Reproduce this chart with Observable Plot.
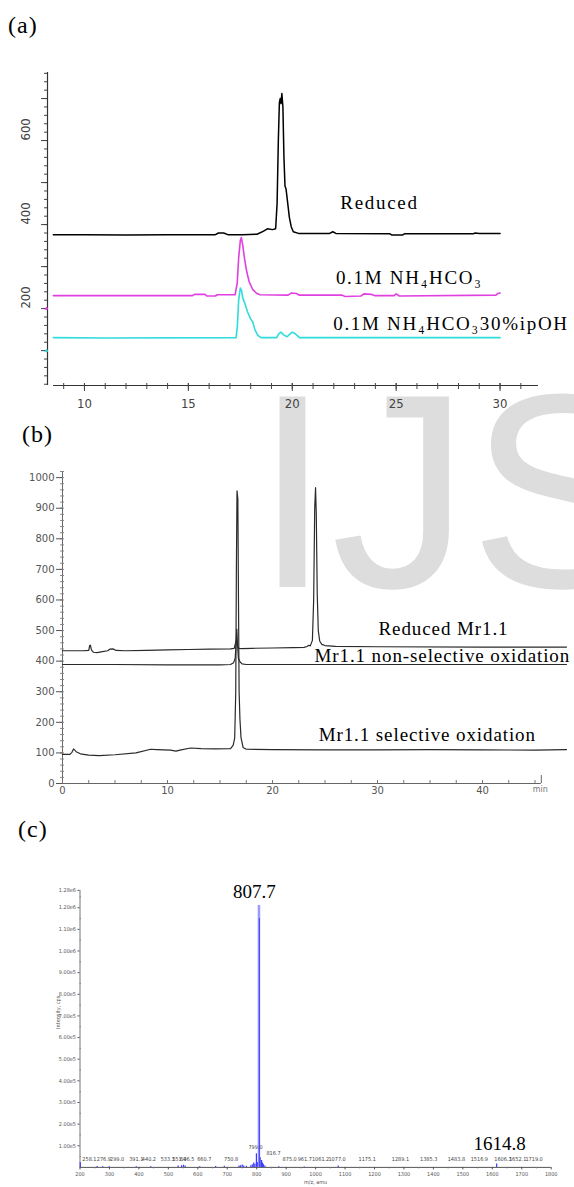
<!DOCTYPE html>
<html><head><meta charset="utf-8">
<script src="https://cdn.jsdelivr.net/npm/d3@7"></script>
<script src="https://cdn.jsdelivr.net/npm/@observablehq/plot@0.6"></script>
<style>
html,body{margin:0;padding:0;background:#fff;}
#page{position:relative;width:574px;height:1187px;overflow:hidden;background:#fff;}
.panel{position:absolute;left:0;line-height:0;}
.plabel{position:absolute;font-family:"Liberation Serif","Times New Roman",serif;font-size:24px;line-height:24px;color:#000;letter-spacing:1px;}
#wm{position:absolute;left:0;top:0;}
</style></head><body>
<div id="page">
<svg id="wm" width="574" height="1187"><text x="254" y="587" font-family="Liberation Sans, Arial, sans-serif" font-size="277" fill="#dddddd">IJS</text></svg>
<div class="plabel" style="left:8px;top:13px">(a)</div>
<div class="plabel" style="left:22px;top:422px">(b)</div>
<div class="plabel" style="left:18px;top:817px">(c)</div>
</div>
<script>
// ---------------- Panel (a) data ----------------
const aXTicks = [10, 15, 20, 25, 30];
const aYTicks = [200, 400, 600];
const reducedA = [[8.5,376],[10,376],[12,375],[14,376],[16.3,376],[16.45,380],[16.7,380],[16.9,376],[17.6,376],[18.3,377],[18.6,384],[18.8,390],[19.05,388],[19.2,390],[19.27,450],[19.33,600],[19.38,690],[19.42,700],[19.46,688],[19.5,712],[19.55,680],[19.6,560],[19.65,492],[19.7,485],[19.76,460],[19.86,417],[19.95,395],[20.05,383],[20.3,379],[21.8,379],[21.95,383],[22.1,379],[24.7,378],[24.8,375],[25.3,375],[25.4,378],[28.7,378],[28.8,380],[29,379],[30,379]];
const magentaA = [[8.5,231],[15.2,231],[15.3,234],[15.8,234],[15.9,230],[16.3,230],[16.4,233],[17.25,233],[17.35,260],[17.42,320],[17.5,362],[17.55,369],[17.62,350],[17.7,320],[17.8,290],[17.92,265],[18.1,245],[18.3,236],[18.45,233],[19.8,232],[19.95,237],[20.2,236],[20.35,232],[22.4,232],[22.55,229],[23.3,230],[23.45,235],[23.8,234],[23.95,231],[24.9,231],[25.0,235],[25.15,230],[29.8,232],[29.9,236],[30,237]];
const cyanA = [[8.5,131],[11,130],[17.3,131],[17.36,160],[17.42,220],[17.5,249],[17.56,243],[17.62,225],[17.72,212],[17.85,192],[18.0,175],[18.1,168],[18.2,150],[18.35,136],[18.5,131],[19.25,131],[19.35,140],[19.45,144],[19.6,137],[19.75,133],[19.9,140],[20.0,144],[20.15,140],[20.35,131],[30,131]];
const aLabels = ["Reduced", "0.1M NH\u2084HCO\u2083", "0.1M NH\u2084HCO\u208330%ipOH"];
const aLabelX = [22.31, 22.10, 21.97];
const aLabelY = [437, 258, 148];

// ---------------- Panel (b) data ----------------
const bXTicks = [0, 10, 20, 30, 40];
const bYTicks = [0, 100, 200, 300, 400, 500, 600, 700, 800, 900, 1000];
const reducedB = [[0,434],[1,434],[2,434],[2.5,435],[2.58,450],[2.66,452],[2.75,437],[2.95,429],[3.3,428],[3.8,431],[4.3,434],[4.5,439],[4.8,440],[5.1,435],[6,434],[8,435],[10,437],[12,438],[14,439],[16,440],[16.35,442],[16.5,462],[16.58,470],[16.66,449],[16.8,442],[17.1,441],[18,442],[20,443],[22,444],[23.0,445],[23.3,448],[23.45,452],[23.6,450],[23.8,468],[23.92,600],[24.02,900],[24.1,967],[24.17,880],[24.26,620],[24.36,500],[24.5,465],[24.7,455],[25,451],[26,448],[30,447],[40,446],[48,446]];
const nonSelB = [[0,389],[5,389],[10,388],[15,388],[16.0,389],[16.3,395],[16.45,410],[16.55,470],[16.6,505],[16.66,460],[16.75,410],[16.9,398],[17.1,391],[17.5,389],[30,389],[48,389]];
const selB = [[0,95],[0.7,95],[0.9,102],[1.05,113],[1.3,104],[1.7,97],[2.5,93],[3.5,91],[5,94],[7,100],[8.4,112],[9,111],[10.3,109],[10.8,106],[11.3,110],[12.2,116],[13.2,114],[14.5,113],[16.0,114],[16.25,125],[16.4,148],[16.5,300],[16.56,700],[16.62,957],[16.7,930],[16.76,600],[16.82,300],[16.9,210],[17.0,150],[17.2,118],[17.5,112],[20,111],[25,110],[30,110],[35,111],[40,110],[45,109],[48,111]];
const bLabels = ["Reduced Mr1.1", "Mr1.1 non-selective oxidation", "Mr1.1 selective oxidation"];
const bLabelX = [30.1, 24.0, 24.4];
const bLabelY = [484, 396, 140];

// ---------------- Panel (c) data ----------------
const cXTicks = [200,300,400,500,600,700,800,900,1000,1100,1200,1300,1400,1500,1600,1700,1800];
const cYTicks = [100000,200000,300000,400000,500000,600000,700000,800000,900000,1000000,1100000,1200000,1280000];
const cPeaks = [[201,22000],[258.1,4000],[276.9,3000],[299.0,3000],[391.1,3000],[440.2,3000],[533.1,6000],[545,8000],[551.4,10000],[557,6000],[606.5,3000],[660.7,4000],[690,5000],[740,6000],[745,8000],[750.8,11000],[756,7000],[765,5000],[780,8000],[785,12000],[790,20000],[794,14000],[799.0,63000],[803,22000],[812,45000],[816.7,32000],[820,20000],[823,12000],[828,6000],[875.0,3000],[961.7,2000],[1077.0,6000],[1614.8,16000]];
const cMain = [[807.7,1210000]];
const cMainIso = [[809.0,1150000]];
const cSmallLabels = ["258.1","276.9","299.0","391.1","440.2","533.1","551.4","606.5","660.7","750.8","875.0","961.7","1061.2","1077.0","1175.1","1289.1","1385.3","1483.8","1516.9","1606.3","1652.1","1719.0"];
const cSmallLabelX = [232,281,326,391,434,498,537,564,622,713,912,963,1017,1073,1175,1288,1384,1478,1556,1636,1686,1742];
const cSmallLabelY = 36500;
const cMidLabels = ["799.0", "816.7"];
const cMidLabelX = [796, 857];
const cMidLabelY = [92000, 66000];
const cBigLabels = ["807.7", "1614.8"];
const cBigLabelX = [792, 1625];
const cBigLabelY = [1247000, 82700];

const narrow = "Liberation Sans Narrow, DejaVu Sans Condensed, Roboto Condensed, Liberation Sans, sans-serif";
const serif = "Liberation Serif, Times New Roman, serif";
const plain = d => String(d);

function place(svg, top) {
  const d = document.createElement("div");
  d.className = "panel"; d.style.top = top + "px";
  d.appendChild(svg);
  document.getElementById("page").appendChild(d);
}
function spacing(svg, ls) {
  d3.select(svg).selectAll("g[aria-label='text']")
    .filter(function(){ return (this.getAttribute("font-family")||"").includes("Serif"); })
    .attr("letter-spacing", ls);
}

// ---------------- Plot (a) ----------------
const aXd = [8.51, 31.85], aYd = [17, 762];
const plotA = Plot.plot({
  width: 574, height: 360,
  marginLeft: 53, marginRight: 36, marginTop: 12, marginBottom: 35,
  x: {domain: aXd}, y: {domain: aYd},
  style: {background: "transparent", overflow: "visible"},
  marks: [
    Plot.ruleX([aXd[0]], {y1: aYd[0], y2: aYd[1], dx: -6, stroke: "#333", strokeWidth: 1.2}),
    Plot.axisY({ticks: d3.range(20, 761, 20), tickSize: 3, text: null, dx: -6, color: "#444"}),
    Plot.axisY({ticks: d3.range(100, 701, 100), tickSize: 6, text: null, dx: -6, color: "#444"}),
    Plot.dot([200], {x: () => aXd[0], y: d => d, dx: -7, r: 1.5, fill: "#e040e0"}),
    Plot.dot([100], {x: () => aXd[0], y: d => d, dx: -7, r: 1.5, fill: "#30d8d8"}),
    Plot.text(aYTicks, {y: d => d, text: plain, frameAnchor: "left", dx: -28, rotate: -90, fontSize: 13, fontFamily: narrow, fill: "#444"}),
    Plot.ruleY([aYd[0]], {x1: aXd[0], x2: aXd[1], stroke: "#333", strokeWidth: 1.2}),
    Plot.axisX({ticks: d3.range(9, 32, 1), tickSize: 6, dy: -2, text: null, color: "#444"}),
    Plot.axisX({ticks: aXTicks, tickSize: 8, dy: -2, text: null, color: "#444"}),
    Plot.axisX({ticks: aXTicks, tickSize: 0, tickPadding: 13, tickFormat: plain, fontSize: 13, fontFamily: narrow, color: "#444"}),
    Plot.line(reducedA, {x: d => d[0], y: d => d[1], stroke: "#000", strokeWidth: 1.5}),
    Plot.line(magentaA, {x: d => d[0], y: d => d[1], stroke: "#e040e0", strokeWidth: 1.6}),
    Plot.line(cyanA, {x: d => d[0], y: d => d[1], stroke: "#30dcdc", strokeWidth: 1.6}),
    Plot.text(aLabels, {x: (d, i) => aLabelX[i], y: (d, i) => aLabelY[i], text: d => d, textAnchor: "start", lineAnchor: "bottom", fontSize: 19, fontFamily: serif, fill: "#000"})
  ]
});
spacing(plotA, 1.7);
place(plotA, 60);

// ---------------- Plot (b) ----------------
const bXd = [0, 48], bYd = [0, 1020];
const plotB = Plot.plot({
  width: 574, height: 345,
  marginLeft: 62, marginRight: 8, marginTop: 16, marginBottom: 17,
  x: {domain: bXd}, y: {domain: bYd},
  style: {background: "transparent", overflow: "visible"},
  marks: [
    Plot.ruleX([0], {y1: 0, y2: 1020, stroke: "#666"}),
    Plot.axisY({ticks: d3.range(0, 1021, 20), tickSize: 4, dx: 2, text: null, color: "#888"}),
    Plot.axisY({ticks: bYTicks, tickSize: 6, tickPadding: 2, tickFormat: plain, fontSize: 10, fontFamily: "DejaVu Sans, Verdana, sans-serif", color: "#555"}),
    Plot.ruleY([0], {x1: 0, x2: 45.6, stroke: "#666"}),
    Plot.axisX({ticks: d3.range(0, 45.6, 2.5), tickSize: 3, dy: -3, text: null, color: "#777"}),
    Plot.axisX({ticks: [45.6], tickSize: 8, dy: -8, text: null, color: "#666"}),
    Plot.axisX({ticks: bXTicks, tickSize: 0, tickPadding: 3, tickFormat: plain, fontSize: 10, fontFamily: "DejaVu Sans, Verdana, sans-serif", color: "#555"}),
    Plot.text(["min"], {x: () => 45.5, frameAnchor: "bottom", lineAnchor: "top", dy: 3, fontSize: 8, fontFamily: "DejaVu Sans, sans-serif", fill: "#777"}),
    Plot.line(reducedB, {x: d => d[0], y: d => d[1], stroke: "#2a2a2a", strokeWidth: 1.2}),
    Plot.line(nonSelB, {x: d => d[0], y: d => d[1], stroke: "#2a2a2a", strokeWidth: 1.2}),
    Plot.line(selB, {x: d => d[0], y: d => d[1], stroke: "#2a2a2a", strokeWidth: 1.2}),
    Plot.text(bLabels, {x: (d, i) => bLabelX[i], y: (d, i) => bLabelY[i], text: d => d, textAnchor: "start", lineAnchor: "bottom", fontSize: 19, fontFamily: serif, fill: "#000"})
  ]
});
spacing(plotB, 0.9);
place(plotB, 455);

// ---------------- Plot (c) ----------------
const cXd = [200, 1800], cYd = [0, 1280000];
const fmtE = d => d.toExponential(2).replace("e+", "e");
const plotC = Plot.plot({
  width: 574, height: 317,
  marginLeft: 79.5, marginRight: 23.3, marginTop: 19.9, marginBottom: 20.1,
  x: {domain: cXd}, y: {domain: cYd},
  style: {background: "transparent", overflow: "visible"},
  marks: [
    Plot.ruleX([200], {y1: 0, y2: 1280000, stroke: "#777"}),
    Plot.axisY({ticks: d3.range(50000, 1280000, 100000), tickSize: 1.5, dx: 1.5, text: null, color: "#888"}),
    Plot.axisY({ticks: cYTicks, tickSize: 2, tickPadding: 2, tickFormat: fmtE, fontSize: 5.5, fontFamily: narrow, color: "#555"}),
    Plot.ruleY([0], {x1: 200, x2: 1800, stroke: "#555"}),
    Plot.axisX({ticks: d3.range(250, 1800, 100), tickSize: 1.5, text: null, color: "#777"}),
    Plot.axisX({ticks: cXTicks, tickSize: 2.5, tickPadding: 2, tickFormat: plain, fontSize: 5.5, fontFamily: narrow, color: "#555"}),
    Plot.text(["Intensity, cps"], {frameAnchor: "left", dx: -22, rotate: -90, fontSize: 5.5, fontFamily: narrow, fill: "#555"}),
    Plot.text(["m/z, amu"], {frameAnchor: "bottom", lineAnchor: "top", dy: 13, fontSize: 5.5, fontFamily: narrow, fill: "#555"}),
    Plot.ruleX(cPeaks, {x: d => d[0], y1: 0, y2: d => d[1], stroke: "#3a3aff", strokeWidth: 1.2}),
    Plot.ruleX(cMain, {x: d => d[0], y1: 0, y2: d => d[1], stroke: "#9a9aff", strokeWidth: 2.5}),
    Plot.ruleX(cMainIso, {x: d => d[0], y1: 0, y2: d => d[1], stroke: "#4040ff", strokeWidth: 1}),
    Plot.text(cSmallLabels, {x: (d, i) => cSmallLabelX[i], y: () => cSmallLabelY, text: d => d, fontSize: 5.5, fontFamily: narrow, fill: "#444"}),
    Plot.text(cMidLabels, {x: (d, i) => cMidLabelX[i], y: (d, i) => cMidLabelY[i], text: d => d, fontSize: 5.5, fontFamily: narrow, fill: "#444"}),
    Plot.text(cBigLabels, {x: (d, i) => cBigLabelX[i], y: (d, i) => cBigLabelY[i], text: d => d, lineAnchor: "bottom", fontSize: 19, fontFamily: serif, fill: "#000"})
  ]
});
place(plotC, 870);
</script>
</body></html>
